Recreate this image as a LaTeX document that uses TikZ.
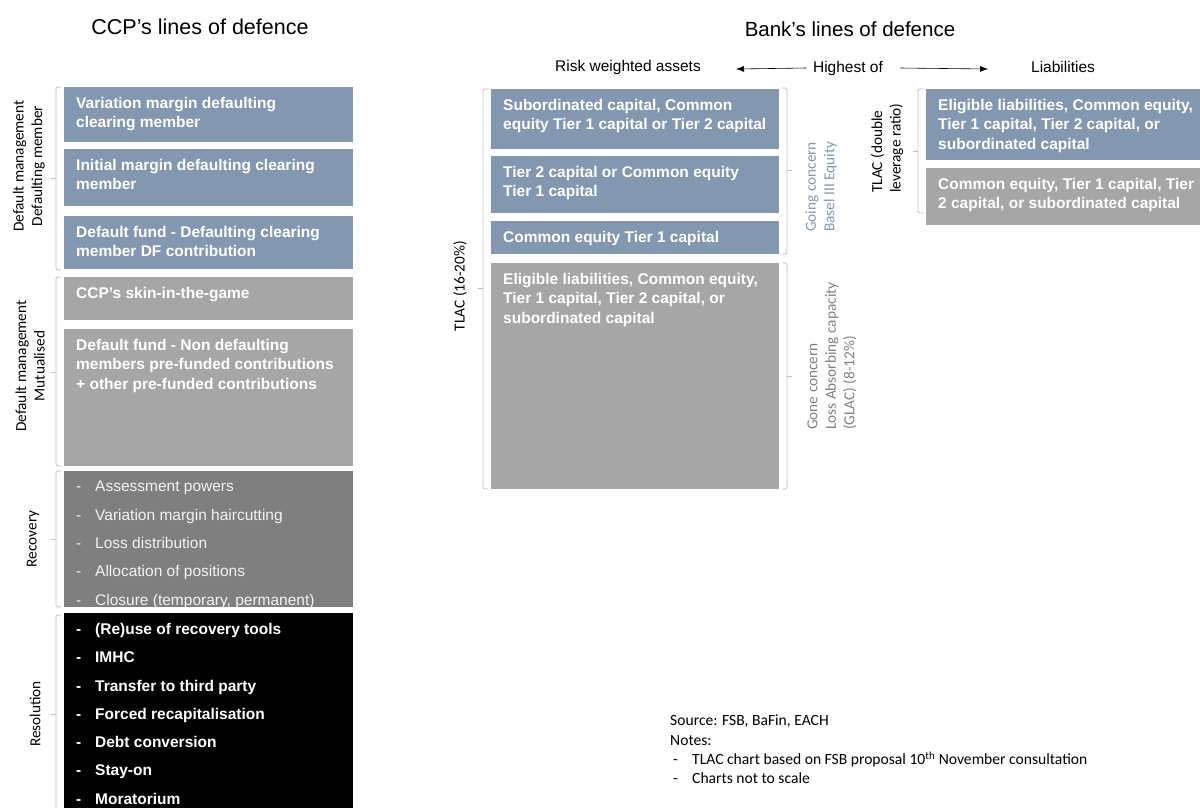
\documentclass[tikz,border=0pt]{standalone}
\usepackage{fontspec}
\setmainfont{Liberation Sans}
\newfontfamily\labelfont{Carlito}
\usetikzlibrary{arrows.meta}

\definecolor{slateblue}{HTML}{8497B0}
\definecolor{lightgrey}{HTML}{A6A6A6}
\definecolor{darkgrey}{HTML}{7F7F7F}
\definecolor{bracketgrey}{HTML}{BFBFBF}
\definecolor{gonegrey}{HTML}{808080}
\definecolor{offwhite}{HTML}{F2F2F2}

\newcommand{\dashitem}[1]{\makebox[19pt][l]{-}#1}
\newcommand{\leftbrk}[4]{\draw[brk] (#1+5,#2) -- (#1,#2) -- (#1,#3) -- (#1+5,#3); \draw[brk] (#1,#4) -- (#1-5,#4);}
\newcommand{\rightbrk}[4]{\draw[brk] (#1-5,#2) -- (#1,#2) -- (#1,#3) -- (#1-5,#3); \draw[brk] (#1,#4) -- (#1+5,#4);}

\tikzset{
    box/.style 2 args={anchor=north west, inner xsep=0pt, inner ysep=10pt, text=white,
        font=\bfseries\fontsize{15.5}{19.5}\selectfont,
        execute at begin node={\begin{minipage}[t][#2][t]{#1}\raggedright\leftskip=12pt\relax},
        execute at end node={\end{minipage}}},
    blue/.style={fill=slateblue},
    grey/.style={fill=lightgrey},
    dark/.style={fill=darkgrey},
    list/.style={text=offwhite, font=\fontsize{15.5}{28.3}\selectfont},
    boldlist/.style={font=\bfseries\fontsize{15.5}{28.3}\selectfont},
    side/.style={rotate=90, inner sep=0pt, align=center, font=\labelfont\fontsize{15.3}{18.5}\selectfont},
    head/.style={font=\fontsize{20.5}{24}\selectfont},
    colhead/.style={font=\fontsize{15.5}{18}\selectfont},
    notes/.style={anchor=north west, inner sep=0pt, align=left, font=\labelfont\fontsize{15.6}{19.2}\selectfont},
    brk/.style={draw=bracketgrey, line width=0.8pt, rounded corners=1.5pt},
    arr/.style={-{Latex[length=8pt,width=6pt]}, line width=0.6pt}
}

\begin{document}
\begin{tikzpicture}[x=1pt, y=-1pt]
    \useasboundingbox (0,0) rectangle (1200,807);

    % titles
    \node[head, font=\fontsize{21.5}{24}\selectfont] (ccp) at (200,27) {CCP’s lines of defence};
    \node[head] (bank) at (850,29) {Bank’s lines of defence};

    \node[colhead] (rwa) at (628,67) {Risk weighted assets};
    \node[colhead] (high) at (848,68) {Highest of};
    \node[colhead] (liab) at (1063,67) {Liabilities};
    \coordinate (rwaend) at (736,69);
    \coordinate (liabend) at (988,69);
    \draw[arr] ([xshift=-3pt]high.west) -- (rwaend);
    \draw[arr] ([xshift=14pt]high.east) -- (liabend);

    % CCP column
    \node[box={289pt}{35pt}, blue] (vm) at (64,87) {Variation margin defaulting\\clearing member};
    \node[box={289pt}{37pt}, blue] (im) at (64,149) {Initial margin defaulting clearing\\member};
    \node[box={289pt}{33pt}, blue] (dfd) at (64,216) {Default fund - Defaulting clearing\\member DF contribution};
    \node[box={289pt}{23pt}, grey] (skin) at (64,277) {CCP’s skin-in-the-game};
    \node[box={289pt}{117pt}, grey] (dfn) at (64,329) {Default fund - Non defaulting\\members pre-funded contributions\\+ other pre-funded contributions};
    \node[box={289pt}{116pt}, dark, list] (rec) at (64,471) {\dashitem{Assessment powers}\\\dashitem{Variation margin haircutting}\\\dashitem{Loss distribution}\\\dashitem{Allocation of positions}\\\dashitem{Closure (temporary, permanent)}};
    \node[box={289pt}{200pt}, fill=black, boldlist] (res) at (64,613) {\dashitem{(Re)use of recovery tools}\\\dashitem{IMHC}\\\dashitem{Transfer to third party}\\\dashitem{Forced recapitalisation}\\\dashitem{Debt conversion}\\\dashitem{Stay-on}\\\dashitem{Moratorium}};

    \leftbrk{56}{87}{270}{178}
    \leftbrk{56}{277}{466}{372}
    \leftbrk{56}{471}{607}{539}
    \leftbrk{56}{615}{815}{714}

    \node[side] (dmdef) at (29,166) {Default management\\Defaulting member};
    \node[side] (dmmut) at (30,366) {Default management\\Mutualised};
    \node[side] (recl) at (33,539) {Recovery};
    \node[side] (resl) at (35,714) {Resolution};

    % bank column, risk weighted assets
    \node[box={288pt}{40pt}, blue] (sub) at (491,89) {Subordinated capital, Common\\equity Tier 1 capital or Tier 2 capital};
    \node[box={288pt}{37pt}, blue] (tier2) at (491,156) {Tier 2 capital or Common equity\\Tier 1 capital};
    \node[box={288pt}{13pt}, blue] (cet1) at (491,221) {Common equity Tier 1 capital};
    \node[box={288pt}{206pt}, grey] (elig) at (491,263) {Eligible liabilities, Common equity,\\Tier 1 capital, Tier 2 capital, or\\subordinated capital};

    \leftbrk{483}{89}{489}{288}
    \rightbrk{787}{88}{254}{170}
    \rightbrk{787}{263}{489}{376}

    \node[side] (tlac) at (460,286) {TLAC (16-20\%)};
    \node[side, anchor=west, align=left, text=slateblue] (going) at (821,232) {Going concern\\Basel III Equity};
    \node[side, anchor=west, align=left, text=gonegrey] (gone) at (832,430) {Gone concern\\Loss Absorbing capacity\\(GLAC) (8-12\%)};

    % bank column, liabilities
    \node[box={289pt}{51pt}, blue] (eligl) at (926,89) {Eligible liabilities, Common equity,\\Tier 1 capital, Tier 2 capital, or\\subordinated capital};
    \node[box={289pt}{37pt}, grey] (cel) at (926,168) {Common equity, Tier 1 capital, Tier\\2 capital, or subordinated capital};

    \leftbrk{918}{89}{213}{151}
    \node[side, anchor=west, align=left] (tlacd) at (887,193) {TLAC (double\\leverage ratio)};

    % sources
    \node[notes] (src) at (670,715) {Source: FSB, BaFin, EACH\\Notes:\\\makebox[22pt][l]{\hspace{3pt}-}TLAC chart based on FSB proposal 10\textsuperscript{th} November consultation\\\makebox[22pt][l]{\hspace{3pt}-}Charts not to scale};
\end{tikzpicture}
\end{document}
